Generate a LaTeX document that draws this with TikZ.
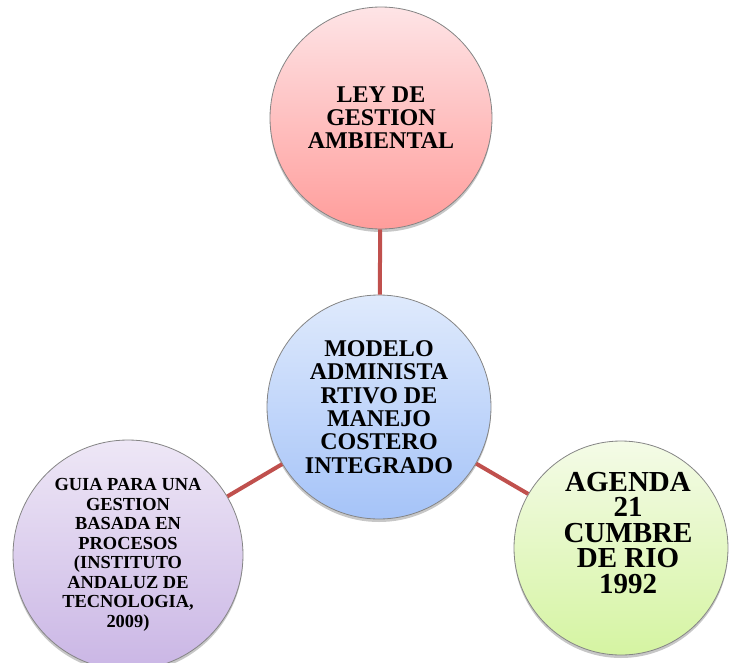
\documentclass[tikz,border=0pt]{standalone}
\usepackage{fontspec}
\setmainfont{Liberation Serif}
\usetikzlibrary{shadows}
\definecolor{conn}{HTML}{C0504D}
\definecolor{rim}{HTML}{858585}
\definecolor{pinkA}{HTML}{FEE4E6}
\definecolor{pinkB}{HTML}{FF9D9B}
\definecolor{blueA}{HTML}{DFEAFC}
\definecolor{blueB}{HTML}{A5C3F8}
\definecolor{lilaA}{HTML}{EEE7F6}
\definecolor{lilaB}{HTML}{CAB6E5}
\definecolor{greenA}{HTML}{F4FBE7}
\definecolor{greenB}{HTML}{D5F4A2}
\tikzset{
  bubble/.style={circle, draw=rim, line width=0.8pt, inner sep=0pt,
    align=center, text=black,
    drop shadow={opacity=0.22, shadow xshift=0pt, shadow yshift=-3pt, fill=black}},
  link/.style={draw=conn, line width=4pt}
}
\begin{document}
\begin{tikzpicture}[x=1pt, y=-1pt]
\useasboundingbox (0,0) rectangle (729,662);
\node[bubble, minimum size=222pt, top color=pinkA, bottom color=pinkB,
  font=\bfseries\fontsize{24}{23}\selectfont] (ley) at (381,118)
  {LEY DE\\GESTION\\AMBIENTAL};
\node[bubble, minimum size=224pt, top color=blueA, bottom color=blueB,
  font=\bfseries\fontsize{24}{23.3}\selectfont] (modelo) at (379,407)
  {MODELO\\ADMINISTA\\RTIVO DE\\MANEJO\\COSTERO\\INTEGRADO};
\node[bubble, minimum size=230pt, top color=lilaA, bottom color=lilaB,
  font=\bfseries\fontsize{18.4}{19.5}\selectfont] (guia) at (128,555)
  {GUIA PARA UNA\\GESTION\\BASADA EN\\PROCESOS\\(INSTITUTO\\ANDALUZ DE\\TECNOLOGIA,\\2009)};
\node[bubble, minimum size=214pt, top color=greenA, bottom color=greenB] (agenda) at (621,548) {};
\node[align=center, inner sep=0pt, font=\bfseries\fontsize{29}{25.5}\selectfont] (agendaText)
  at ([shift={(7,-15)}]agenda.center) {AGENDA\\21\\CUMBRE\\DE RIO\\1992};
\draw[link] (ley) -- (modelo);
\draw[link] (modelo) -- (guia);
\draw[link] (modelo) -- (agenda);
\end{tikzpicture}
\end{document}
